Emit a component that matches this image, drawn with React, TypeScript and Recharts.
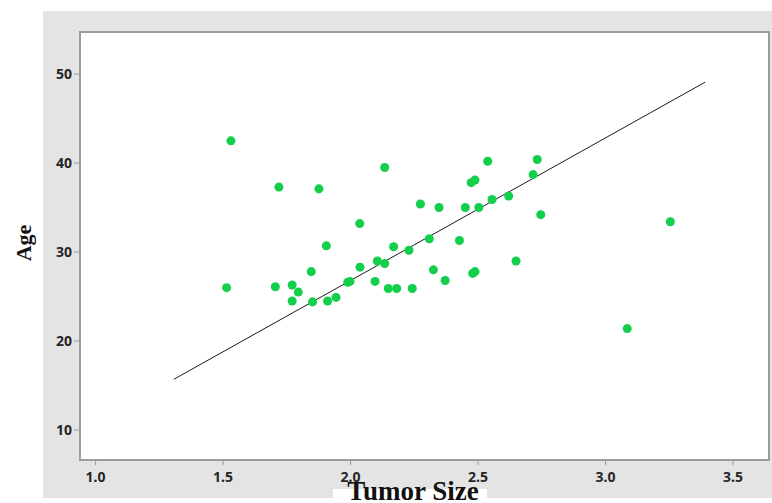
import { ScatterChart, Scatter, XAxis, YAxis, ZAxis, ReferenceArea, ReferenceLine } from "recharts";

const tumorSize = [
  1.531, 1.514, 1.719, 1.705, 1.876, 2.134, 2.036, 1.905, 2.169, 1.846, 2.037, 2.105,
  2.134, 1.771, 1.795, 1.771, 1.851, 1.91, 1.943, 1.989, 1.998, 2.096, 2.148, 2.181,
  2.538, 2.732, 2.716, 2.473, 2.488, 2.274, 2.347, 2.45, 2.503, 2.555, 2.62, 2.746,
  2.309, 2.427, 2.229, 2.325, 2.371, 2.479, 2.488, 2.649, 2.242, 3.085, 3.254,
];
const age = [
  42.5, 26.0, 37.3, 26.1, 37.1, 39.5, 33.2, 30.7, 30.6, 27.8, 28.3, 29.0,
  28.7, 26.3, 25.5, 24.5, 24.4, 24.5, 24.9, 26.6, 26.7, 26.7, 25.9, 25.9,
  40.2, 40.4, 38.7, 37.8, 38.1, 35.4, 35.0, 35.0, 35.0, 35.9, 36.3, 34.2,
  31.5, 31.3, 30.2, 28.0, 26.8, 27.6, 27.8, 29.0, 25.9, 21.4, 33.4,
];
const fitX = [1.307, 3.391];
const fitY = [15.7, 49.1];
const xTicks = [1.0, 1.5, 2.0, 2.5, 3.0, 3.5];
const yTicks = [10, 20, 30, 40, 50];

const xDomain: [number, number] = [0.939, 3.641];
const yDomain: [number, number] = [6.63, 54.73];

const points = tumorSize.map((x, i) => ({ x, y: age[i] }));

const tickStyle = { fontFamily: "'Noto Sans', sans-serif", fontWeight: 700, fontSize: 14, fill: "#262626" };

export default function App() {
  return (
    <div style={{ position: "relative", width: 772, height: 503, background: "#fff", fontFamily: "'Liberation Serif', serif" }}>
      <style>{`body{margin:0}`}</style>
      <div style={{ position: "absolute", left: 43, top: 11, right: 0, bottom: 5, background: "#e4e4e4" }} />
      <div style={{ position: "absolute", left: 0, top: 0 }}>
        <ScatterChart width={772} height={503} margin={{ top: 32, right: 3, bottom: 13, left: 0 }}>
          <XAxis
            type="number"
            dataKey="x"
            domain={xDomain}
            ticks={xTicks}
            tickFormatter={(v: number) => v.toFixed(1)}
            tick={tickStyle}
            tickLine={{ stroke: "#9a9a9a" }}
            tickSize={5}
            tickMargin={7}
            axisLine={false}
            height={30}
            allowDataOverflow
          />
          <YAxis
            type="number"
            dataKey="y"
            domain={yDomain}
            ticks={yTicks}
            tick={tickStyle}
            tickLine={{ stroke: "#9a9a9a" }}
            tickSize={6}
            axisLine={false}
            width={80}
            allowDataOverflow
          />
          <ZAxis range={[126, 126]} />
          <ReferenceArea x1={xDomain[0]} x2={xDomain[1]} y1={yDomain[0]} y2={yDomain[1]} fill="#fff" fillOpacity={1} stroke="#9c9c9c" strokeWidth={2} />
          <ReferenceLine
            segment={[{ x: fitX[0], y: fitY[0] }, { x: fitX[1], y: fitY[1] }]}
            stroke="#1a1a1a"
            strokeWidth={1}
          />
          <Scatter data={points} fill="#13cf4b" shape="circle" isAnimationActive={false} />
        </ScatterChart>
      </div>
      <div style={{ position: "absolute", left: 6, top: 243, transform: "translate(0,-50%) rotate(-90deg)", fontWeight: 700, fontSize: 22, color: "#111" }}>
        Age
      </div>
      <div style={{ position: "absolute", left: 333, top: 489, width: 154, height: 14, background: "#fff" }} />
      <div style={{ position: "absolute", left: 333, top: 478, width: 160, textAlign: "center", fontWeight: 700, fontSize: 27, lineHeight: "27px", color: "#111", whiteSpace: "nowrap" }}>
        Tumor Size
      </div>
    </div>
  );
}
